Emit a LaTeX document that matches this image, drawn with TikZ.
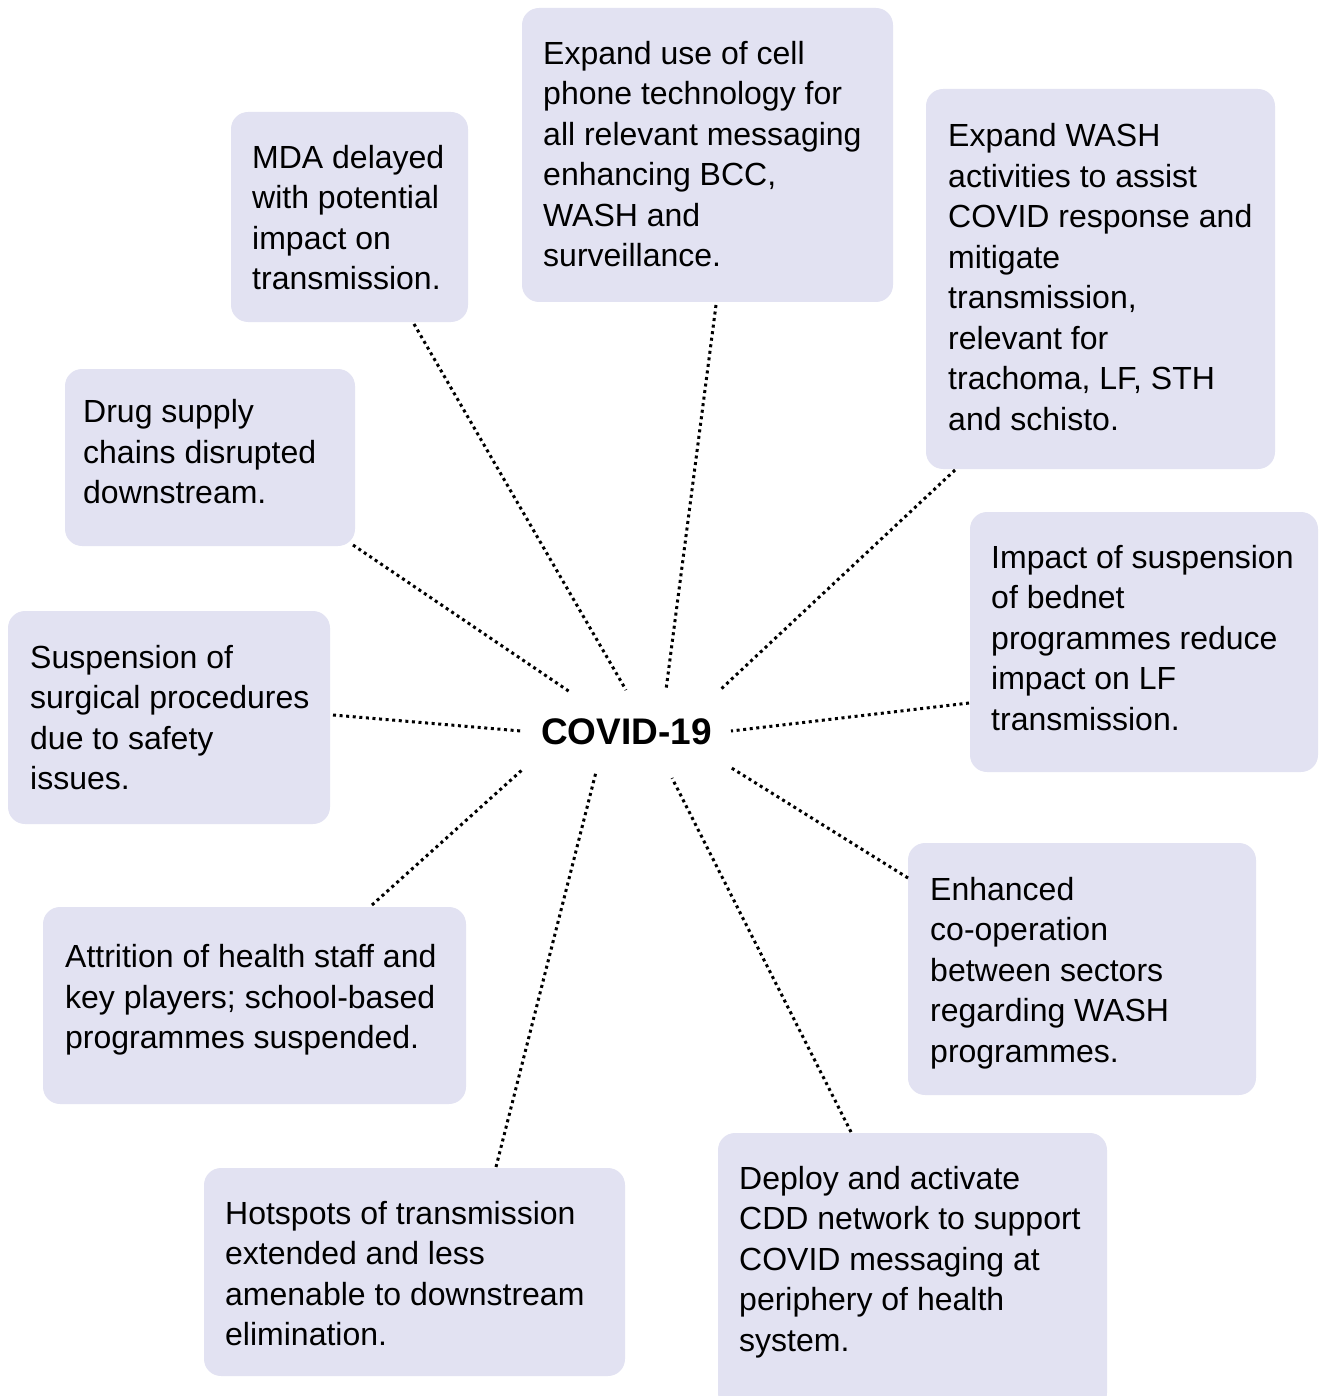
\documentclass[tikz,border=0pt]{standalone}
\usepackage{fontspec}
\setmainfont{Liberation Sans}
\definecolor{boxfill}{RGB}{226,226,242}
\begin{document}
\begin{tikzpicture}[x=1pt,y=-1pt,
  boxshape/.style={fill=boxfill, rounded corners=17pt},
  boxtext/.style={anchor=north west, inner sep=0pt, align=left,
    font=\fontsize{32}{40.5}\selectfont},
  conn/.style={line width=3pt, dash pattern=on 3pt off 3.6pt}]
\useasboundingbox (0,0) rectangle (1321,1396);
% boxes: name, left, top, right, bottom, text pad, first baseline offset, text
\newcommand{\mybox}[8]{%
  \fill[boxshape] (#2,#3) rectangle (#4,#5);
  \node[boxtext] (#1) at ({#2+#6},{#3+#7-28.35}) {\strut#8};
}
\mybox{mda}{231}{112}{468}{322}{21}{56}{MDA delayed\\with potential\\impact on\\transmission.}
\mybox{cell}{522}{8}{893}{302}{21}{56}{Expand use of cell\\phone technology for\\all relevant messaging\\enhancing BCC,\\WASH and\\surveillance.}
\mybox{wash}{926}{89}{1275}{469}{22}{57.5}{Expand WASH\\activities to assist\\COVID response and\\mitigate\\transmission,\\relevant for\\trachoma, LF, STH\\and schisto.}
\mybox{drug}{65}{369}{355}{546}{18}{53.5}{Drug supply\\chains disrupted\\downstream.}
\mybox{bednet}{970}{512}{1318}{772}{21}{56}{Impact of suspension\\of bednet\\programmes reduce\\impact on LF\\transmission.}
\mybox{surg}{8}{611}{330}{824}{22}{57}{Suspension of\\surgical procedures\\due to safety\\issues.}
\mybox{coop}{908}{843}{1256}{1095}{22}{57}{Enhanced\\co-operation\\between sectors\\regarding WASH\\programmes.}
\mybox{attr}{43}{907}{466}{1104}{22}{60.5}{Attrition of health staff and\\key players; school-based\\programmes suspended.}
\mybox{cdd}{718}{1133}{1107}{1410}{21}{56}{Deploy and activate\\CDD network to support\\COVID messaging at\\periphery of health\\system.}
\mybox{hot}{204}{1168}{625}{1376}{21}{56}{Hotspots of transmission\\extended and less\\amenable to downstream\\elimination.}
% centre
\node[font=\fontsize{37}{44}\selectfont\bfseries, inner sep=0pt] (covid) at (626.5,732) {COVID-19};
% connector end points
\coordinate (a1) at (414,324); \coordinate (b1) at (626,690);
\coordinate (a2) at (716,305); \coordinate (b2) at (666,690);
\coordinate (a3) at (955,470); \coordinate (b3) at (720,690);
\coordinate (a4) at (353,545); \coordinate (b4) at (570,692);
\coordinate (a5) at (333,715); \coordinate (b5) at (521,731);
\coordinate (a6) at (969,703); \coordinate (b6) at (731,731);
\coordinate (a7) at (372,905); \coordinate (b7) at (522,770);
\coordinate (a8) at (496,1167); \coordinate (b8) at (596,772);
\coordinate (a9) at (851,1132); \coordinate (b9) at (672,778);
\coordinate (a10) at (908,878); \coordinate (b10) at (730,767);
\foreach \i in {1,...,10} {\draw[conn] (a\i) -- (b\i);}
\end{tikzpicture}
\end{document}
